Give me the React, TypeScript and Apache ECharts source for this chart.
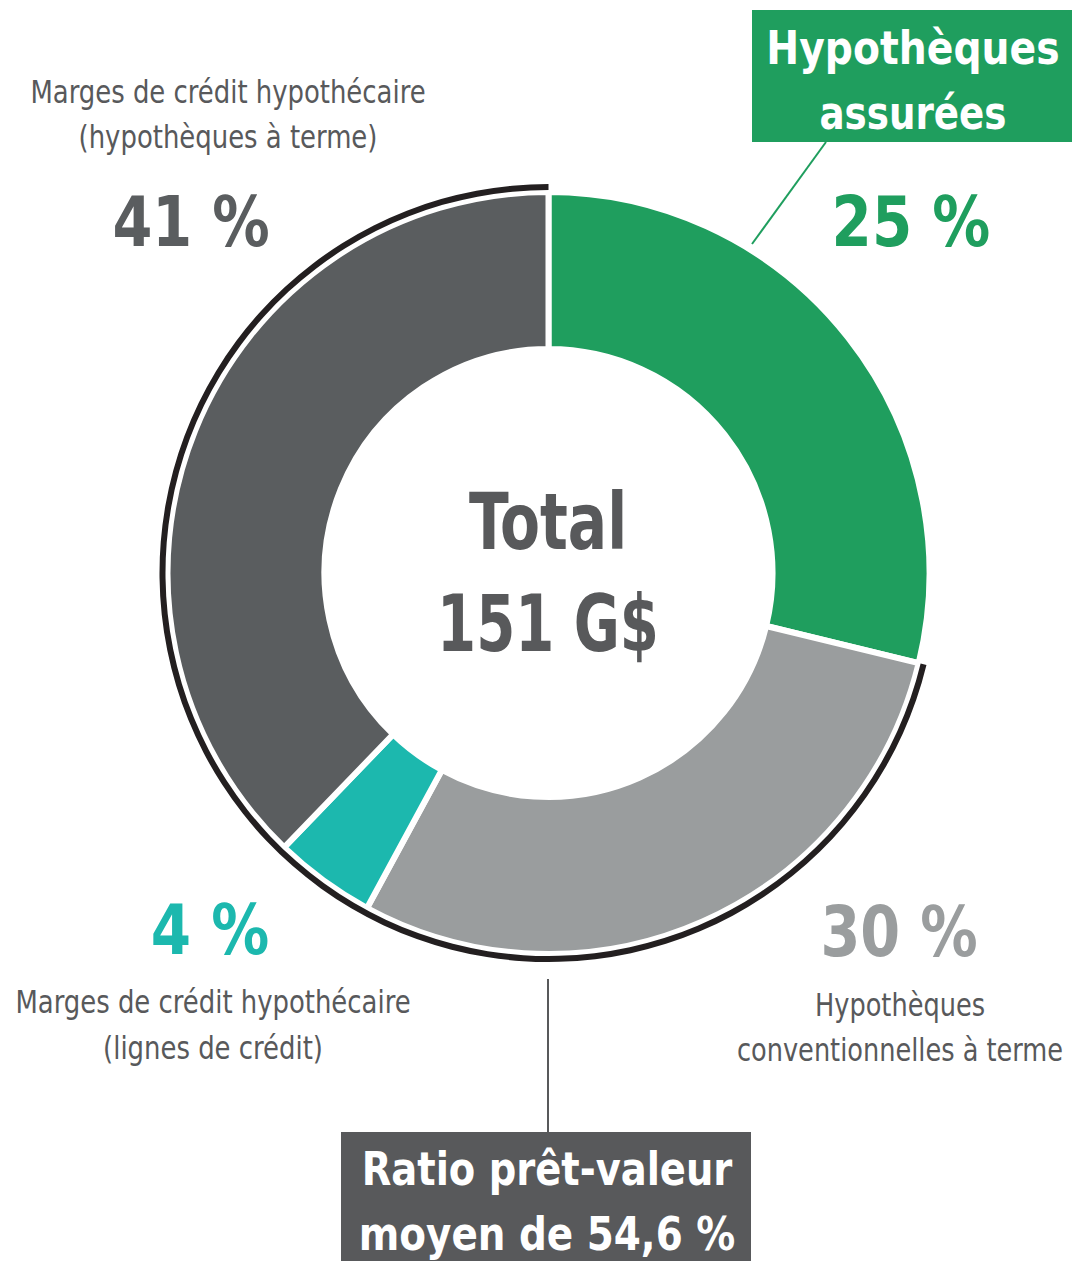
import React, { useEffect, useRef } from "react";
import * as echarts from "echarts";

const categories = [
  "Hypothèques assurées",
  "Hypothèques conventionnelles à terme",
  "Marges de crédit hypothécaire (lignes de crédit)",
  "Marges de crédit hypothécaire (hypothèques à terme)",
];
// angular shares as drawn in the picture
const sliceShares = [28.8, 29.1, 4.3, 37.8];
const labelPercents = ["25 %", "30 %", "4 %", "41 %"];
const sliceColors = ["#1f9e5e", "#9a9d9e", "#1cb8ae", "#5a5d5f"];
const totalLines = ["Total", "151 G$"];
const insuredTitle = ["Hypothèques", "assurées"];
const ltvTitle = ["Ratio prêt-valeur", "moyen de 54,6 %"];
const descLines = [
  null,
  ["Hypothèques", "conventionnelles à terme"],
  ["Marges de crédit hypothécaire", "(lignes de crédit)"],
  ["Marges de crédit hypothécaire", "(hypothèques à terme)"],
];

const FONT = "'Liberation Sans Narrow', 'DejaVu Sans Condensed', 'Open Sans', sans-serif";

function txt(text: string, x: number, y: number, size: number, color: string, bold: boolean, scaleX = 1) {
  return {
    type: "text",
    x,
    y,
    scaleX,
    style: {
      text,
      fill: color,
      fontSize: size,
      fontWeight: bold ? "bold" : "normal",
      fontFamily: FONT,
      align: "center",
      verticalAlign: "middle",
    },
  };
}

export default function App() {
  const ref = useRef<HTMLDivElement>(null);
  useEffect(() => {
    if (!ref.current) return;
    const chart = echarts.init(ref.current, null, { renderer: "svg" });
    const insured = sliceShares[0];
    const uninsured = sliceShares.slice(1).reduce((a, b) => a + b, 0);
    const descColor = "#58595b";
    const graphic: any[] = [
      { type: "rect", shape: { x: 752, y: 10, width: 320, height: 132 }, style: { fill: sliceColors[0] } },
      { type: "line", shape: { x1: 752, y1: 244, x2: 826, y2: 142 }, style: { stroke: sliceColors[0], lineWidth: 2 } },
      txt(insuredTitle[0], 913, 48, 46, "#ffffff", true, 0.95),
      txt(insuredTitle[1], 913, 113, 46, "#ffffff", true, 0.9),
      { type: "rect", shape: { x: 341, y: 1132, width: 410, height: 129 }, style: { fill: "#58595b" } },
      { type: "line", shape: { x1: 548, y1: 979, x2: 548, y2: 1132 }, style: { stroke: "#58595b", lineWidth: 2 } },
      txt(ltvTitle[0], 547, 1169, 46, "#ffffff", true, 0.93),
      txt(ltvTitle[1], 547, 1235, 46, "#ffffff", true, 0.94),
      txt(totalLines[0], 548, 522, 78, "#58595b", true, 0.83),
      txt(totalLines[1], 548, 624, 78, "#58595b", true, 0.8),
      txt(labelPercents[0], 911, 222, 70, sliceColors[0], true, 0.92),
      txt(labelPercents[1], 899, 932, 70, sliceColors[1], true, 0.91),
      txt(labelPercents[2], 210, 930, 70, sliceColors[2], true, 0.92),
      txt(labelPercents[3], 191, 222, 70, sliceColors[3], true, 0.91),
      txt((descLines[3] as string[])[0], 228, 92, 32, descColor, false, 0.9),
      txt((descLines[3] as string[])[1], 228, 137, 32, descColor, false, 0.9),
      txt((descLines[2] as string[])[0], 213, 1002, 32, descColor, false, 0.9),
      txt((descLines[2] as string[])[1], 213, 1048, 32, descColor, false, 0.9),
      txt((descLines[1] as string[])[0], 900, 1005, 32, descColor, false, 0.89),
      txt((descLines[1] as string[])[1], 900, 1050, 32, descColor, false, 0.89),
    ];
    chart.setOption({
      animation: false,
      series: [
        {
          type: "pie",
          center: [548.5, 573],
          radius: [224, 381],
          startAngle: 90,
          clockwise: true,
          silent: true,
          label: { show: false },
          labelLine: { show: false },
          itemStyle: { borderColor: "#ffffff", borderWidth: 6 },
          data: categories.map((name, i) => ({
            name,
            value: sliceShares[i],
            itemStyle: { color: sliceColors[i] },
          })),
        },
        {
          type: "pie",
          center: [548.5, 573],
          radius: [383, 389],
          startAngle: 90,
          clockwise: true,
          silent: true,
          label: { show: false },
          labelLine: { show: false },
          data: [
            { name: "assurées", value: insured, itemStyle: { color: "rgba(0,0,0,0)" } },
            { name: "non assurées", value: uninsured, itemStyle: { color: "#231f20" } },
          ],
        },
      ],
      graphic,
    });
    return () => chart.dispose();
  }, []);
  return (
    <div
      ref={ref}
      style={{ position: "fixed", left: 0, top: 0, width: 1072, height: 1261, background: "#ffffff" }}
    />
  );
}
